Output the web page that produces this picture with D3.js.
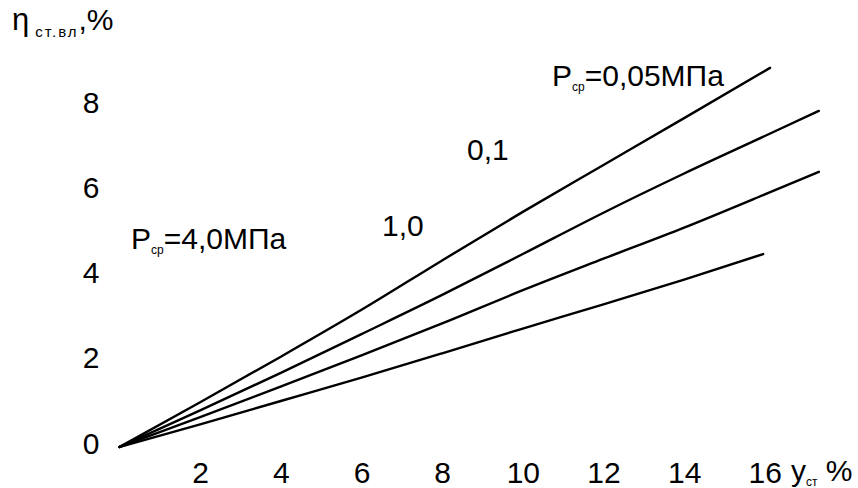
<!DOCTYPE html>
<html><head><meta charset="utf-8">
<script src="https://cdn.jsdelivr.net/npm/d3@7"></script>
<style>body{margin:0;background:#fff}svg{display:block}text{font-family:"Liberation Sans",Arial,sans-serif;fill:#000}</style>
</head><body>
<svg id="c" width="858" height="488"></svg>
<script>
const xTicks = [2, 4, 6, 8, 10, 12, 14, 16];
const yTicks = [0, 2, 4, 6, 8];
const xValues05 = [0, 2, 4, 6, 8, 10, 12, 14, 16.13];
const yValues005 = [0, 1.05, 2.12, 3.22, 4.38, 5.52, 6.62, 7.72, 8.90];
const xValues01 = [0, 2, 4, 6, 8, 10, 12, 14, 16, 17.34];
const yValues01 = [0, 0.86, 1.74, 2.65, 3.57, 4.53, 5.50, 6.42, 7.30, 7.89];
const xValues10 = [0, 2, 4, 6, 8, 10, 12, 14, 16, 17.34];
const yValues10 = [0, 0.70, 1.42, 2.15, 2.90, 3.68, 4.42, 5.15, 5.93, 6.46];
const xValues40 = [0, 2, 4, 6, 8, 10, 12, 14, 15.96];
const yValues40 = [0, 0.53, 1.08, 1.63, 2.20, 2.78, 3.35, 3.93, 4.53];
const seriesNames = ["0,05", "0,1", "1,0", "4,0"];

const svg = d3.select("#c");
const x = d3.scaleLinear().domain([0, 16]).range([119.5, 764.8]);
const y = d3.scaleLinear().domain([0, 8]).range([447, 106.2]);
const FS = "30px";

const series = [
  {name: seriesNames[0], xs: xValues05, ys: yValues005},
  {name: seriesNames[1], xs: xValues01, ys: yValues01},
  {name: seriesNames[2], xs: xValues10, ys: yValues10},
  {name: seriesNames[3], xs: xValues40, ys: yValues40}
];
const line = d3.line().x(d => x(d[0])).y(d => y(d[1])).curve(d3.curveMonotoneX);
svg.selectAll("path.s").data(series).join("path")
  .attr("class", "s")
  .attr("d", s => line(s.xs.map((v, i) => [v, s.ys[i]])))
  .attr("fill", "none").attr("stroke", "#000").attr("stroke-width", 2.4)
  .attr("stroke-linecap", "round");

// y axis labels
const ya = svg.append("g").attr("transform", "translate(91,0)")
  .call(d3.axisLeft(y).tickValues(yTicks).tickSize(0).tickPadding(0).tickFormat(d3.format("d")));
ya.select(".domain").remove();
ya.selectAll("text").attr("text-anchor", "middle").attr("x", 0).attr("dy", "0.2em")
  .style("font-size", FS).style("font-family", "'Liberation Sans',Arial,sans-serif").attr("fill", "#000");

// x axis labels
const xa = svg.append("g")
  .call(d3.axisBottom(x).tickValues(xTicks).tickSize(0).tickPadding(0).tickFormat(d3.format("d")));
xa.select(".domain").remove();
xa.selectAll("text").attr("y", 483).attr("dy", 0)
  .style("font-size", FS).style("font-family", "'Liberation Sans',Arial,sans-serif").attr("fill", "#000");

// axis titles
const yt = svg.append("text").attr("x", 12).attr("y", 30).style("font-size", "31px");
yt.append("tspan").text("η");
yt.append("tspan").attr("dy", 7).attr("dx", 6).style("font-size", "15px").style("letter-spacing", "2px").text("ст.вл");
yt.append("tspan").attr("dy", -7).style("font-size", "30px").text(",%");

const xt = svg.append("text").attr("x", 791).attr("y", 481).style("font-size", FS);
xt.append("tspan").text("у");
xt.append("tspan").attr("dy", 5).style("font-size", "12px").text("ст");
xt.append("tspan").attr("dy", -5).style("font-size", FS).text(" %");

// annotations
const a1 = svg.append("text").attr("x", 552).attr("y", 86).style("font-size", FS);
a1.append("tspan").text("P");
a1.append("tspan").attr("dy", 5).style("font-size", "12px").text("ср");
a1.append("tspan").attr("dy", -5).style("font-size", FS).text("=0,05МПа");

const a2 = svg.append("text").attr("x", 131).attr("y", 249).style("font-size", FS);
a2.append("tspan").text("P");
a2.append("tspan").attr("dy", 5).style("font-size", "12px").text("ср");
a2.append("tspan").attr("dy", -5).style("font-size", FS).text("=4,0МПа");

svg.append("text").attr("x", 467).attr("y", 160).style("font-size", FS).text(seriesNames[1]);
svg.append("text").attr("x", 382).attr("y", 236).style("font-size", FS).text(seriesNames[2]);
</script>
</body></html>
